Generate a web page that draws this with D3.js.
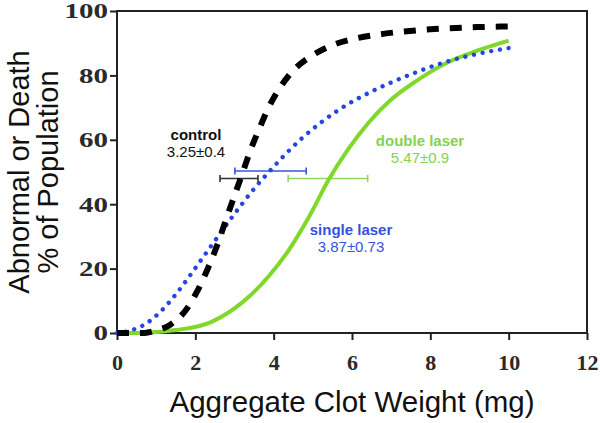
<!DOCTYPE html>
<html>
<head>
<meta charset="utf-8">
<script src="https://cdn.jsdelivr.net/npm/d3@7"></script>
<style>
  body { margin: 0; background: #fff; }
  .tick text { font-family: "Liberation Serif", "Times New Roman", serif; font-weight: bold; fill: #2a2a2a; }
  .title { font-family: "Liberation Sans", Arial, sans-serif; fill: #111; }
  .lab { font-family: "Liberation Sans", Arial, sans-serif; font-size: 15px; }
</style>
</head>
<body>
<div id="chart"></div>
<script>
// chart values
var xTicks = [0, 2, 4, 6, 8, 10, 12];
var yTicks = [0, 20, 40, 60, 80, 100];

var controlX = [0, 0.7, 1.0, 1.35, 1.75, 2.05, 2.3, 2.55, 2.75, 2.95, 3.2, 3.4, 3.6, 3.85, 4.15, 4.5, 5.0, 5.5, 6.15, 6.8, 8.0, 9.2, 10];
var controlY = [0, 0, 0.8, 2.5, 7, 13, 19.5, 27, 34, 41, 49.5, 56.5, 62.5, 69.5, 76, 81.5, 86.3, 89.4, 91.6, 92.9, 94.3, 95, 95.2];

var singleX = [0, 0.4, 0.7, 1.1, 1.5, 1.8, 2.12, 2.55, 2.83, 3.2, 3.57, 3.9, 4.3, 4.75, 5.2, 5.6, 6.1, 6.5, 7.0, 7.56, 8.4, 9.25, 10];
var singleY = [0, 1, 2.6, 6.5, 12, 16.8, 22.2, 29.5, 34.2, 40.2, 45.8, 50.3, 55.5, 60.8, 65.3, 68.8, 72.5, 75, 77.8, 80.6, 84.2, 86.8, 88.5];

var doubleX = [0, 0.7, 1.5, 2.4, 3.2, 3.9, 4.4, 4.9, 5.4, 5.9, 6.4, 7.0, 7.56, 8.4, 9.25, 10];
var doubleY = [0, 0.1, 0.9, 3.4, 9.5, 18, 26, 36, 47.5, 57, 65, 72.5, 77.6, 83.8, 87.9, 90.8];

// error bars: [low, high, y]
var controlErr = [2.63, 3.6, 48];
var singleErr = [3.01, 4.83, 50.3];
var doubleErr = [4.37, 6.4, 48];

var controlLabel = ["control", "3.25±0.4"];
var singleLabel = ["single laser", "3.87±0.73"];
var doubleLabel = ["double laser", "5.47±0.9"];

var width = 600;
var height = 423;
var margins = { top: 11, bottom: 90, left: 117, right: 13 };
var plotWidth = width - margins.left - margins.right;
var plotHeight = height - margins.top - margins.bottom;

var black = "#000";
var blue = "#2447e0";
var green = "#7fd82a";
var blueText = "#3652dc";
var greenText = "#86d24c";

var svg = d3.select('#chart')
    .append("svg")
    .attr("width", width)
    .attr("height", height);

var plot = svg.append("g")
    .attr("transform", "translate(" + margins.left + "," + margins.top + ")");

var xScale = d3.scaleLinear()
    .domain([0, 12])
    .range([0, plotWidth]);
var yScale = d3.scaleLinear()
    .domain([0, 100])
    .range([plotHeight, 0]);

// axes
var xAxis = plot.append("g")
    .attr("transform", "translate(0," + plotHeight + ")")
    .call(d3.axisBottom(xScale).tickValues(xTicks).tickSize(7).tickSizeOuter(0).tickPadding(14));
xAxis.selectAll(".tick text").style("font-size", "22px");

var yAxis = plot.append("g")
    .call(d3.axisLeft(yScale).tickValues(yTicks).tickSize(7).tickSizeOuter(0));
yAxis.selectAll(".tick text")
    .style("font-size", "20px")
    .attr("x", -6.2)
    .attr("dy", "0.34em")
    .attr("transform", "scale(1.45,1)");

plot.selectAll(".domain").remove();
plot.selectAll(".tick line").attr("stroke", "#222").attr("stroke-width", 2);

plot.append("rect")
    .attr("x", 0)
    .attr("y", 0)
    .attr("width", plotWidth)
    .attr("height", plotHeight)
    .attr("fill", "none")
    .attr("stroke", "#222")
    .attr("stroke-width", 2);

// curves
function toPoints(xs, ys) {
    return xs.map(function (d, i) { return [d, ys[i]]; });
}
var line = d3.line()
    .x(function (d) { return xScale(d[0]); })
    .y(function (d) { return yScale(d[1]); })
    .curve(d3.curveMonotoneX);

// error bars
function errorBar(e, color) {
    var g = plot.append("g")
        .attr("stroke", color)
        .attr("stroke-width", 1.6);
    g.append("line")
        .attr("x1", xScale(e[0])).attr("x2", xScale(e[1]))
        .attr("y1", yScale(e[2])).attr("y2", yScale(e[2]));
    [e[0], e[1]].forEach(function (v) {
        g.append("line")
            .attr("x1", xScale(v)).attr("x2", xScale(v))
            .attr("y1", yScale(e[2]) - 3.5).attr("y2", yScale(e[2]) + 3.5);
    });
}
errorBar(controlErr, "#333");
errorBar(singleErr, "#3a55d8");
errorBar(doubleErr, "#8fd960");

plot.append("path")
    .datum(toPoints(doubleX, doubleY))
    .attr("d", line)
    .attr("fill", "none")
    .attr("stroke", green)
    .attr("stroke-width", 4);

plot.append("path")
    .datum(toPoints(singleX, singleY))
    .attr("d", line)
    .attr("fill", "none")
    .attr("stroke", blue)
    .attr("stroke-width", 4.4)
    .attr("stroke-linecap", "round")
    .attr("stroke-dasharray", "0.01,8.8");

plot.append("path")
    .datum(toPoints(controlX, controlY))
    .attr("d", line)
    .attr("fill", "none")
    .attr("stroke", black)
    .attr("stroke-width", 6)
    .attr("stroke-dasharray", "12,11");

// annotations
function annotate(lines, cx, y0, color) {
    svg.append("text")
        .classed("lab", true)
        .attr("x", cx).attr("y", y0)
        .attr("text-anchor", "middle")
        .style("font-weight", "bold")
        .attr("fill", color)
        .text(lines[0]);
    svg.append("text")
        .classed("lab", true)
        .attr("x", cx).attr("y", y0 + 17)
        .attr("text-anchor", "middle")
        .attr("fill", color)
        .text(lines[1]);
}
annotate(controlLabel, 196, 140, "#111");
annotate(singleLabel, 351, 235, blueText);
annotate(doubleLabel, 420, 146, greenText);

// axis titles
svg.append("text")
    .classed("title", true)
    .attr("x", margins.left + plotWidth / 2)
    .attr("y", 412)
    .attr("text-anchor", "middle")
    .style("font-size", "29.5px")
    .text("Aggregate Clot Weight (mg)");

svg.append("text")
    .classed("title", true)
    .attr("transform", "translate(29," + (margins.top + plotHeight / 2) + ") rotate(-90)")
    .attr("text-anchor", "middle")
    .style("font-size", "29px")
    .text("Abnormal or Death");
svg.append("text")
    .classed("title", true)
    .attr("transform", "translate(58," + (margins.top + plotHeight / 2) + ") rotate(-90)")
    .attr("text-anchor", "middle")
    .style("font-size", "29px")
    .text("% of Population");
</script>
</body>
</html>
